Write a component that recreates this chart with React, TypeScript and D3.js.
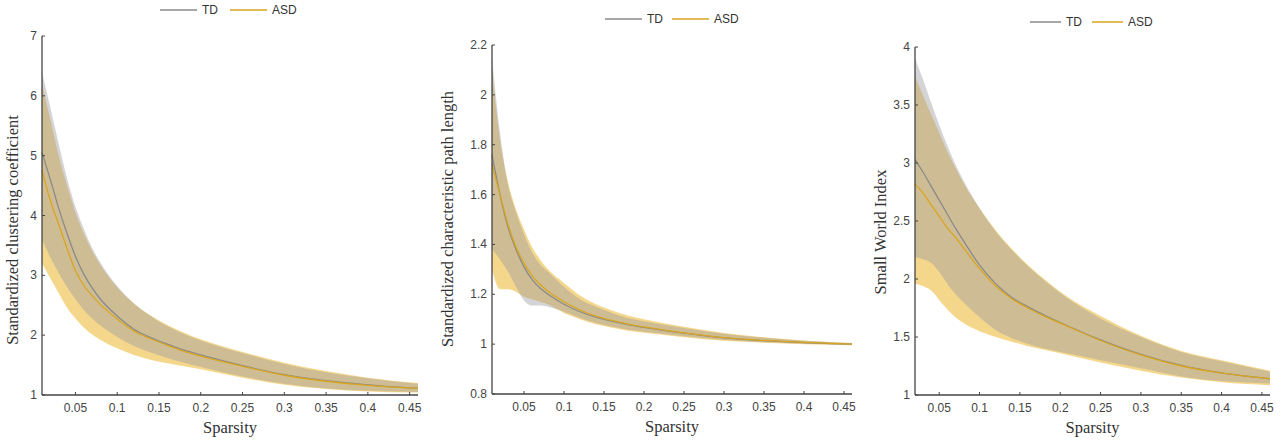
import React from "react";
import * as d3 from "d3";

// sparsity thresholds
const sparsity = [0.01, 0.02, 0.03, 0.04, 0.05, 0.06, 0.07, 0.08, 0.1, 0.12, 0.14, 0.16, 0.18, 0.2, 0.25, 0.3, 0.35, 0.4, 0.46];
const sparsitySwi = [0.02, 0.03, 0.04, 0.05, 0.06, 0.07, 0.08, 0.1, 0.12, 0.14, 0.16, 0.18, 0.2, 0.25, 0.3, 0.35, 0.4, 0.46];
const xTicks = [0.05, 0.1, 0.15, 0.2, 0.25, 0.3, 0.35, 0.4, 0.45];
const groups = ["TD", "ASD"];

// standardized clustering coefficient
const ccTdMean = [5.05, 4.6, 4.12, 3.7, 3.32, 3.02, 2.79, 2.6, 2.32, 2.1, 1.96, 1.85, 1.75, 1.67, 1.49, 1.34, 1.24, 1.17, 1.11];
const ccTdUp = [6.4, 5.8, 5.2, 4.62, 4.15, 3.78, 3.46, 3.21, 2.82, 2.53, 2.32, 2.15, 2.02, 1.91, 1.7, 1.52, 1.38, 1.28, 1.19];
const ccTdLo = [3.6, 3.3, 3.04, 2.8, 2.6, 2.42, 2.28, 2.16, 1.97, 1.82, 1.71, 1.62, 1.54, 1.47, 1.31, 1.19, 1.11, 1.07, 1.05];
const ccAsdMean = [4.75, 4.25, 3.85, 3.45, 3.08, 2.83, 2.66, 2.51, 2.27, 2.07, 1.94, 1.83, 1.73, 1.65, 1.48, 1.33, 1.23, 1.16, 1.11];
const ccAsdUp = [6.2, 5.6, 5.0, 4.5, 4.05, 3.7, 3.41, 3.17, 2.8, 2.53, 2.33, 2.17, 2.04, 1.93, 1.72, 1.54, 1.4, 1.29, 1.2];
const ccAsdLo = [3.2, 2.95, 2.7, 2.46, 2.28, 2.13, 2.01, 1.92, 1.78, 1.67, 1.59, 1.53, 1.48, 1.43, 1.29, 1.17, 1.1, 1.06, 1.04];
const ccTicks = [1, 2, 3, 4, 5, 6, 7];

// standardized characteristic path length
const plTdMean = [1.76, 1.6, 1.47, 1.38, 1.31, 1.26, 1.225, 1.2, 1.16, 1.13, 1.108, 1.092, 1.078, 1.067, 1.044, 1.025, 1.014, 1.006, 1.0];
const plTdUp = [2.15, 1.85, 1.64, 1.53, 1.44, 1.37, 1.32, 1.29, 1.23, 1.18, 1.15, 1.125, 1.105, 1.092, 1.065, 1.042, 1.026, 1.014, 1.004];
const plTdLo = [1.38, 1.34, 1.29, 1.23, 1.175, 1.155, 1.155, 1.15, 1.13, 1.105, 1.085, 1.07, 1.058, 1.05, 1.032, 1.017, 1.008, 1.002, 0.998];
const plAsdMean = [1.72, 1.6, 1.48, 1.39, 1.325, 1.275, 1.24, 1.212, 1.17, 1.137, 1.112, 1.095, 1.08, 1.069, 1.045, 1.026, 1.015, 1.007, 1.0];
const plAsdUp = [2.1, 1.82, 1.65, 1.54, 1.46, 1.39, 1.34, 1.3, 1.245, 1.195, 1.16, 1.135, 1.115, 1.1, 1.07, 1.045, 1.028, 1.015, 1.005];
const plAsdLo = [1.3, 1.22, 1.22, 1.21, 1.19, 1.18, 1.17, 1.16, 1.125, 1.1, 1.08, 1.066, 1.054, 1.046, 1.028, 1.014, 1.006, 1.0, 0.996];
const plTicks = [0.8, 1, 1.2, 1.4, 1.6, 1.8, 2, 2.2];

// small world index
const swTdMean = [3.03, 2.92, 2.8, 2.68, 2.56, 2.44, 2.33, 2.12, 1.96, 1.84, 1.76, 1.69, 1.625, 1.475, 1.35, 1.255, 1.19, 1.14];
const swTdUp = [3.9, 3.72, 3.52, 3.33, 3.15, 2.99, 2.85, 2.61, 2.41, 2.25, 2.11, 1.99, 1.88, 1.66, 1.5, 1.37, 1.29, 1.2];
const swTdLo = [2.19, 2.17, 2.14, 2.06, 1.96, 1.87, 1.8, 1.67, 1.56, 1.49, 1.44, 1.4, 1.37, 1.3, 1.23, 1.16, 1.12, 1.1];
const swAsdMean = [2.82, 2.74, 2.64, 2.54, 2.44, 2.36, 2.27, 2.09, 1.94, 1.83, 1.75, 1.68, 1.62, 1.47, 1.345, 1.25, 1.19, 1.14];
const swAsdUp = [3.75, 3.58, 3.42, 3.26, 3.1, 2.96, 2.83, 2.61, 2.42, 2.26, 2.12, 2.0, 1.89, 1.68, 1.51, 1.38, 1.3, 1.21];
const swAsdLo = [1.96, 1.94, 1.9, 1.82, 1.74, 1.67, 1.62, 1.55, 1.5, 1.46, 1.42, 1.39, 1.36, 1.28, 1.21, 1.15, 1.11, 1.085];
const swTicks = [1, 1.5, 2, 2.5, 3, 3.5, 4];

const tdLine = "#8a8a8a";
const asdLine = "#d9a521";
const tdFill = "#98989f";
const asdFill = "#ebb01a";
const sans = "'Liberation Sans', Arial, sans-serif";
const serif = "'Liberation Serif', 'Times New Roman', serif";

function Panel({ x0, x1, yTop, yBot, xDomain, yDomain, yTicks, s, td, asd, label, legend }) {
  const x = d3.scaleLinear(xDomain, [x0, x1]);
  const y = d3.scaleLinear(yDomain, [yBot, yTop]);
  const band = d3.area().x((d, i) => x(s[i])).y0((d) => y(d[0])).y1((d) => y(d[1])).curve(d3.curveMonotoneX);
  const line = d3.line().x((d, i) => x(s[i])).y((d) => y(d)).curve(d3.curveMonotoneX);
  const bandData = (lo, up) => lo.map((v, i) => [v, up[i]]);
  const fmt = (v) => String(+v.toFixed(2));
  const midX = (x0 + x1) / 2;

  return (
    <g>
      <path d={band(bandData(asd.lo, asd.up))} fill={asdFill} fillOpacity={0.5} />
      <path d={band(bandData(td.lo, td.up))} fill={tdFill} fillOpacity={0.42} />
      <path d={line(td.mean)} fill="none" stroke={tdLine} strokeWidth={1.3} />
      <path d={line(asd.mean)} fill="none" stroke={asdLine} strokeWidth={1.3} />

      {/* axes */}
      <line x1={x0} x2={x0} y1={yTop} y2={yBot} stroke="#444" strokeWidth={1.3} />
      <line x1={x0} x2={x1} y1={yBot} y2={yBot} stroke="#444" strokeWidth={1.3} />
      {xTicks.map((t) => (
        <g key={t}>
          <line x1={x(t)} x2={x(t)} y1={yBot} y2={yBot - 3} stroke="#444" />
          <text x={x(t)} y={yBot + 17} textAnchor="middle" fontFamily={sans} fontSize={12} fill="#444">
            {fmt(t)}
          </text>
        </g>
      ))}
      {yTicks.map((t) => (
        <g key={t}>
          <line x1={x0} x2={x0 + 3} y1={y(t)} y2={y(t)} stroke="#444" />
          <text x={x0 - 5} y={y(t) + 4} textAnchor="end" fontFamily={sans} fontSize={12} fill="#444">
            {fmt(t)}
          </text>
        </g>
      ))}
      <text x={midX} y={yBot + 38} textAnchor="middle" fontFamily={serif} fontSize={16.5} fill="#333">
        Sparsity
      </text>
      <text
        transform={`translate(${label.x},${label.y}) rotate(-90)`}
        textAnchor="middle"
        fontFamily={serif}
        fontSize={16.5}
        fill="#333"
      >
        {label.text}
      </text>

      {/* legend */}
      {groups.map((g, i) => {
        const lx = legend.x + i * legend.step;
        return (
          <g key={g}>
            <line x1={lx} x2={lx + legend.len} y1={legend.y} y2={legend.y} stroke={i === 0 ? tdLine : asdLine} strokeWidth={1.5} />
            <text x={lx + legend.len + 5} y={legend.y + 4} fontFamily={sans} fontSize={12} fill="#333">
              {g}
            </text>
          </g>
        );
      })}
    </g>
  );
}

export default function App() {
  return (
    <svg width={1285} height={446} style={{ position: "absolute", left: 0, top: 0, background: "#fff" }}>
      <Panel
        x0={42} x1={418} yTop={36} yBot={395}
        xDomain={[0.01, 0.46]} yDomain={[1, 7]} yTicks={ccTicks} s={sparsity}
        td={{ mean: ccTdMean, up: ccTdUp, lo: ccTdLo }}
        asd={{ mean: ccAsdMean, up: ccAsdUp, lo: ccAsdLo }}
        label={{ x: 18, y: 230, text: "Standardized clustering coefficient" }}
        legend={{ x: 160, y: 10, len: 37, step: 70 }}
      />
      <Panel
        x0={492} x1={852} yTop={45} yBot={394}
        xDomain={[0.01, 0.46]} yDomain={[0.8, 2.2]} yTicks={plTicks} s={sparsity}
        td={{ mean: plTdMean, up: plTdUp, lo: plTdLo }}
        asd={{ mean: plAsdMean, up: plAsdUp, lo: plAsdLo }}
        label={{ x: 453, y: 219, text: "Standardized characteristic path length" }}
        legend={{ x: 605, y: 19, len: 37, step: 67 }}
      />
      <Panel
        x0={915} x1={1270} yTop={47} yBot={395}
        xDomain={[0.02, 0.46]} yDomain={[1, 4]} yTicks={swTicks} s={sparsitySwi}
        td={{ mean: swTdMean, up: swTdUp, lo: swTdLo }}
        asd={{ mean: swAsdMean, up: swAsdUp, lo: swAsdLo }}
        label={{ x: 886, y: 232, text: "Small World Index" }}
        legend={{ x: 1030, y: 22, len: 31, step: 62 }}
      />
    </svg>
  );
}
